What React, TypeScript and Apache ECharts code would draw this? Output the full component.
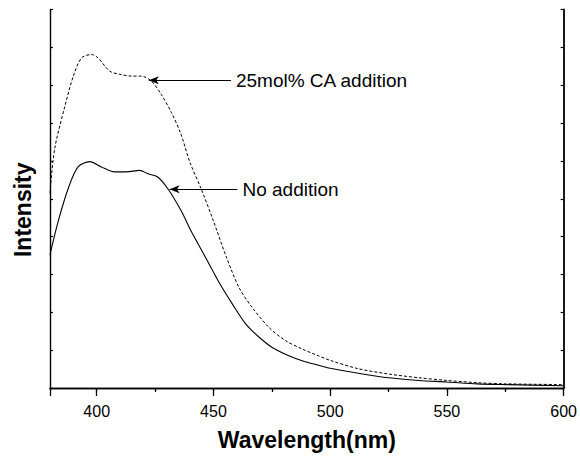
import React, { useEffect, useRef } from "react";
import * as echarts from "echarts";

const noAdditionWl = [380, 383.5, 387.8, 392, 397, 402, 407.7, 412.7, 418.4, 422, 426, 430.4, 436, 441, 446.8, 452.5, 458.2, 463.9, 469.6, 475.2, 482.3, 488, 495, 500, 512, 525, 538, 550, 563, 575, 600];
const noAdditionVal = [3.52, 4.4, 5.27, 5.84, 5.98, 5.84, 5.71, 5.71, 5.75, 5.66, 5.58, 5.27, 4.7, 4.08, 3.43, 2.78, 2.21, 1.69, 1.34, 1.07, 0.85, 0.72, 0.6, 0.52, 0.39, 0.27, 0.2, 0.16, 0.11, 0.09, 0.06];

const caWl = [380, 382, 386.4, 390, 393.5, 397.8, 400.6, 405.6, 410.6, 414.8, 419, 423.4, 427.6, 432, 436, 440, 444.7, 449.6, 455.3, 461, 466.7, 473.8, 480.9, 488, 495, 500, 512, 525, 538, 550, 563, 575, 600];
const caVal = [5.15, 6.32, 7.45, 8.24, 8.72, 8.81, 8.72, 8.37, 8.28, 8.24, 8.24, 8.11, 7.76, 7.28, 6.72, 5.95, 5.27, 4.48, 3.5, 2.65, 2.12, 1.6, 1.25, 1.03, 0.85, 0.73, 0.51, 0.37, 0.27, 0.2, 0.14, 0.11, 0.09];

const annotationLabels = ["25mol% CA addition", "No addition"];
// arrow tip (wavelength, intensity) and arrow tail wavelength
const annotationTip = [[422.3, 8.13], [431.2, 5.25]];
const annotationTailWl = [457.5, 460.3];

const FONT = "Liberation Sans, Arial, Helvetica, sans-serif";

export default function App() {
  const ref = useRef<HTMLDivElement>(null);
  useEffect(() => {
    if (!ref.current) return;
    const chart = echarts.init(ref.current, null, { renderer: "svg" });
    const axisLine = { show: true, lineStyle: { color: "#000", width: 1.4 } };
    const zip = (xs: number[], ys: number[]) => xs.map((x, i) => [x, ys[i]]);
    const markData = annotationLabels.map((label, i) => [
      {
        coord: annotationTip[i],
        label: {
          show: true,
          position: "end",
          distance: 5,
          formatter: label,
          color: "#000",
          fontSize: 19,
          fontFamily: FONT,
        },
      },
      { coord: [annotationTailWl[i], annotationTip[i][1]] },
    ]);
    chart.setOption({
      animation: false,
      backgroundColor: "#fff",
      grid: { left: 50, right: 14, top: 9.5, bottom: 65, containLabel: false },
      xAxis: [
        {
          type: "value",
          position: "bottom",
          min: 380,
          max: 600,
          name: "Wavelength(nm)",
          nameLocation: "middle",
          nameGap: 40,
          nameTextStyle: { fontSize: 23, fontWeight: "bold", color: "#000", fontFamily: FONT },
          axisLine,
          axisTick: { show: true, inside: false, length: 8, lineStyle: { color: "#000", width: 1.3 } },
          minorTick: { show: true, splitNumber: 2, length: 4, lineStyle: { color: "#000", width: 1.2 } },
          axisLabel: { show: true, showMinLabel: false, fontSize: 16, color: "#000", margin: 15, fontFamily: FONT },
          splitLine: { show: false },
        },
        {
          type: "value",
          position: "top",
          min: 380,
          max: 600,
          axisLine,
          axisTick: { show: true, inside: true, length: 3, lineStyle: { color: "#000", width: 1.2 } },
          minorTick: { show: true, splitNumber: 2, length: 3, lineStyle: { color: "#000", width: 1.2 } },
          axisLabel: { show: false },
          splitLine: { show: false },
        },
      ],
      yAxis: [
        {
          type: "value",
          position: "left",
          min: 0,
          max: 10,
          interval: 1,
          name: "Intensity",
          nameLocation: "middle",
          nameGap: 16,
          nameTextStyle: { fontSize: 23, fontWeight: "bold", color: "#000", fontFamily: FONT, padding: [0, 22, 0, 0] },
          axisLine,
          axisTick: { show: true, inside: true, length: 3, lineStyle: { color: "#000", width: 1.2 } },
          axisLabel: { show: false },
          splitLine: { show: false },
        },
        {
          type: "value",
          position: "right",
          min: 0,
          max: 10,
          interval: 1,
          axisLine: { show: true, lineStyle: { color: "#000", width: 1.8 } },
          axisTick: { show: true, inside: true, length: 3, lineStyle: { color: "#000", width: 1.2 } },
          axisLabel: { show: false },
          splitLine: { show: false },
        },
      ],
      series: [
        {
          name: "25mol% CA addition",
          type: "line",
          data: zip(caWl, caVal),
          smooth: 0.3,
          showSymbol: false,
          symbol: "none",
          lineStyle: { color: "#000", width: 1, type: [3, 2] },
          z: 2,
        },
        {
          name: "No addition",
          type: "line",
          data: zip(noAdditionWl, noAdditionVal),
          smooth: 0.3,
          showSymbol: false,
          symbol: "none",
          lineStyle: { color: "#000", width: 1.1 },
          z: 3,
          markLine: {
            silent: true,
            symbol: ["arrow", "none"],
            symbolSize: [6, 10],
            lineStyle: { color: "#000", width: 1, type: "solid" },
            emphasis: { disabled: true },
            data: markData,
          },
        },
      ],
    });
    return () => chart.dispose();
  }, []);
  return <div ref={ref} style={{ position: "fixed", left: 0, top: 0, width: 580, height: 456 }} />;
}
